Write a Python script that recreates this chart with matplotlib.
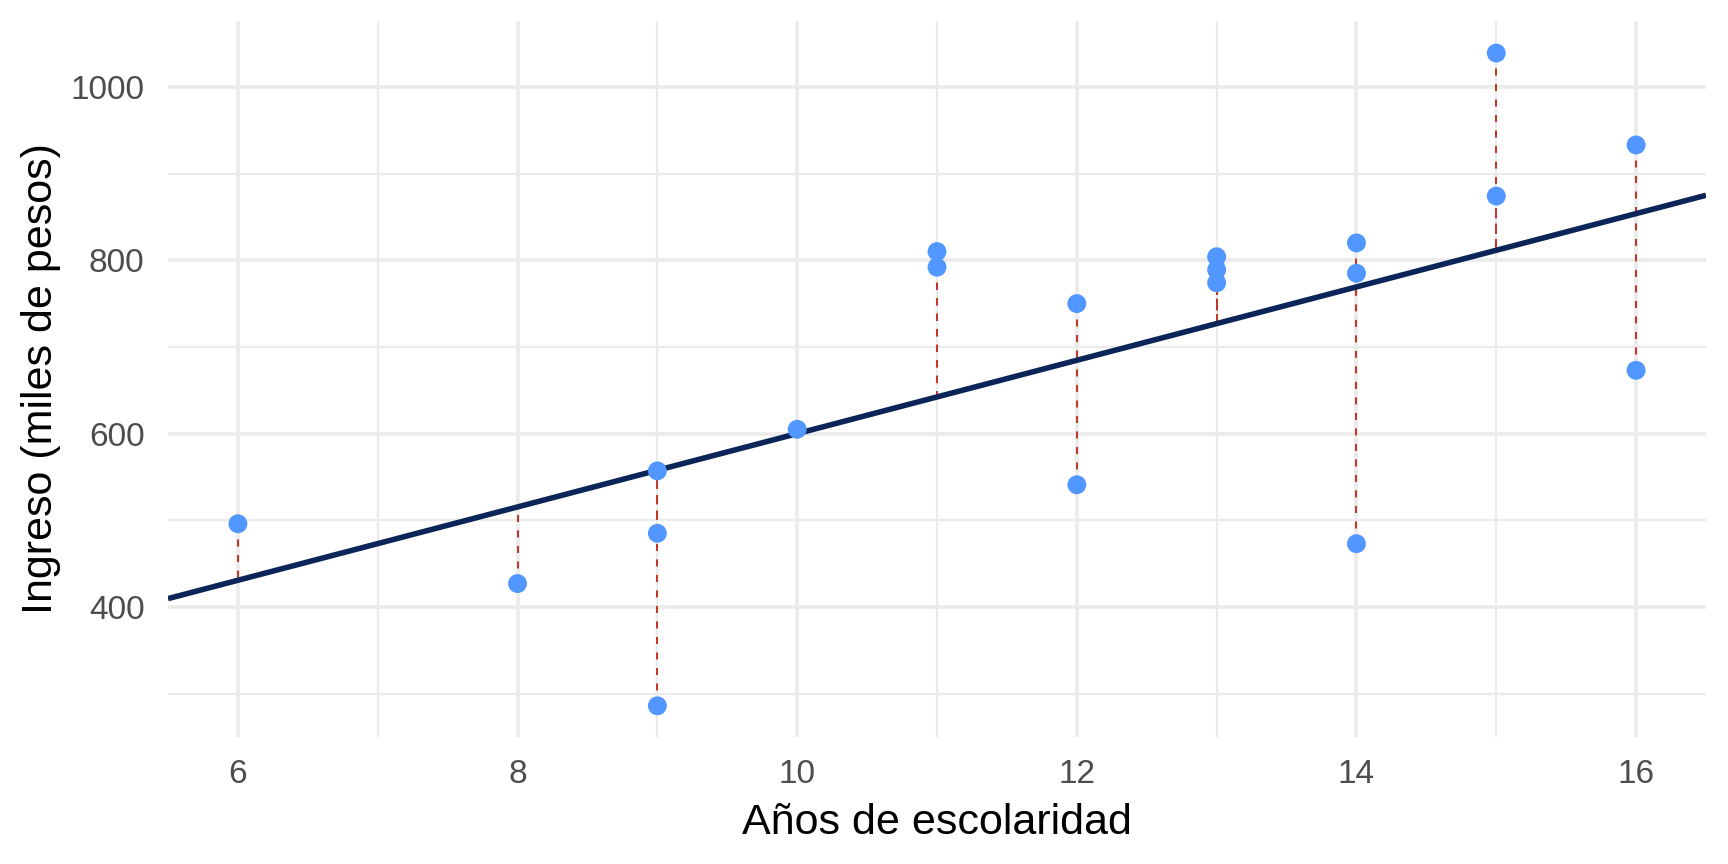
import matplotlib
matplotlib.use("Agg")
import matplotlib.pyplot as plt
import numpy as np

# ---- data ----
anos = [6, 8, 9, 9, 9, 10, 11, 11, 12, 12, 13, 13, 13, 14, 14, 14, 15, 15, 16, 16]
ingreso = [496, 427, 557, 485, 286, 605, 810, 792, 750, 541, 804, 789, 774, 820, 785, 473, 1039, 874, 933, 673]
intercepto = 177.0
pendiente = 42.3
x_ticks = [6, 8, 10, 12, 14, 16]
y_ticks = [400, 600, 800, 1000]
x_label = "Años de escolaridad"
y_label = "Ingreso (miles de pesos)"

# ---- style ----
plt.rcParams["font.family"] = ["Liberation Sans", "DejaVu Sans"]
W, H, DPI = 1728, 864, 100
fig = plt.figure(figsize=(W / DPI, H / DPI), dpi=DPI)
ax = fig.add_axes([168 / W, 1 - 737 / H, (1706 - 168) / W, (737 - 21) / H])

x = np.array(anos, dtype=float)
y = np.array(ingreso, dtype=float)
y_hat = intercepto + pendiente * x

xlim = (5.5, 16.5)
ylim = (250, 1076)
ax.set_xlim(*xlim)
ax.set_ylim(*ylim)

# grid
grid_c = "#EBEBEB"
for v in range(7, 17, 2):
    ax.axvline(v, color=grid_c, lw=1.65, zorder=0)
for v in range(300, 1001, 200):
    ax.axhline(v, color=grid_c, lw=1.65, zorder=0)
for v in x_ticks:
    ax.axvline(v, color=grid_c, lw=2.65, zorder=0)
for v in y_ticks:
    ax.axhline(v, color=grid_c, lw=2.65, zorder=0)

# residual segments
ax.vlines(x, y, y_hat, colors="#C0392B", lw=1.45, linestyles=(0, (3.5, 4.2)), zorder=2)

# regression line
xs = np.array(xlim)
ax.plot(xs, intercepto + pendiente * xs, color="#0B2559", lw=4.0, zorder=3, solid_capstyle="butt")

# points
ax.scatter(x, y, s=185, color="#5197FF", edgecolors="none", zorder=4)

ax.set_xticks(x_ticks)
ax.set_yticks(y_ticks)
ax.set_xticklabels([str(t) for t in x_ticks])
ax.set_yticklabels([str(t) for t in y_ticks])
ax.tick_params(axis="both", length=0, labelsize=24, labelcolor="#4D4D4D")
ax.tick_params(axis="y", pad=17)
ax.tick_params(axis="x", pad=16)
for s in ax.spines.values():
    s.set_visible(False)

ax.set_xlabel(x_label, fontsize=31, color="black", labelpad=9)
ax.set_ylabel(y_label, fontsize=31, color="black", labelpad=7)

fig.savefig("out.png", dpi=DPI, facecolor="white")
